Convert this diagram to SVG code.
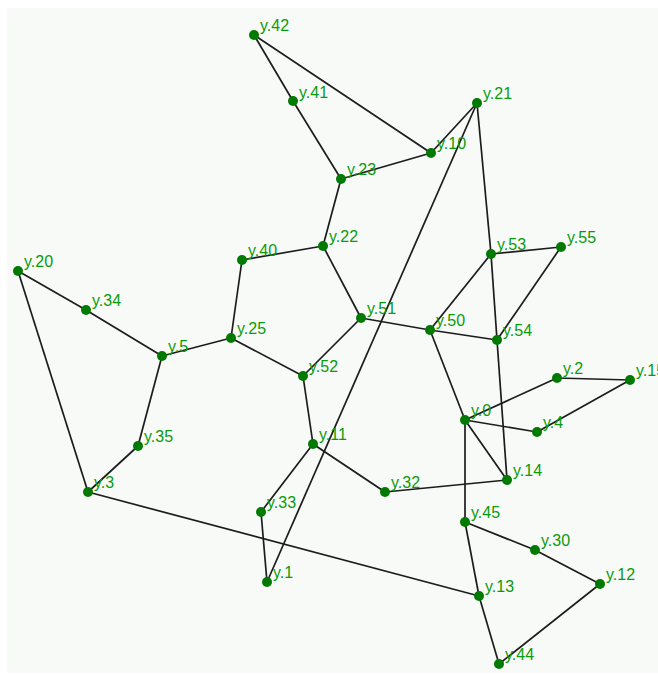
<svg xmlns="http://www.w3.org/2000/svg" width="658" height="675" viewBox="0 0 658 675">
<style>
.e{stroke:#1c1c1c;stroke-width:1.7;fill:none}
.n circle{fill:#007a00}
.n text{fill:#0a9a0a;font-family:"Liberation Sans",Arial,sans-serif;font-size:16px}
</style>
<rect width="658" height="675" fill="#ffffff"/>
<rect x="7" y="8" width="651" height="665" fill="#f8faf8"/>
<g id="edges" class="e">
<line x1="254" y1="35" x2="293" y2="101"/>
<line x1="254" y1="35" x2="431" y2="153"/>
<line x1="293" y1="101" x2="341" y2="179"/>
<line x1="341" y1="179" x2="431" y2="153"/>
<line x1="431" y1="153" x2="477" y2="103"/>
<line x1="477" y1="103" x2="267" y2="582"/>
<line x1="477" y1="103" x2="491" y2="254"/>
<line x1="491" y1="254" x2="497" y2="340"/>
<line x1="497" y1="340" x2="507" y2="480"/>
<line x1="341" y1="179" x2="323" y2="246"/>
<line x1="323" y1="246" x2="242" y2="260"/>
<line x1="323" y1="246" x2="361" y2="318"/>
<line x1="242" y1="260" x2="231" y2="338"/>
<line x1="231" y1="338" x2="162" y2="356"/>
<line x1="231" y1="338" x2="303" y2="376"/>
<line x1="18" y1="271" x2="86" y2="310"/>
<line x1="86" y1="310" x2="162" y2="356"/>
<line x1="18" y1="271" x2="88" y2="492"/>
<line x1="162" y1="356" x2="138" y2="446"/>
<line x1="138" y1="446" x2="88" y2="492"/>
<line x1="88" y1="492" x2="479" y2="596"/>
<line x1="303" y1="376" x2="361" y2="318"/>
<line x1="303" y1="376" x2="313" y2="444"/>
<line x1="361" y1="318" x2="430" y2="330"/>
<line x1="430" y1="330" x2="491" y2="254"/>
<line x1="430" y1="330" x2="497" y2="340"/>
<line x1="430" y1="330" x2="465" y2="420"/>
<line x1="491" y1="254" x2="561" y2="247"/>
<line x1="561" y1="247" x2="497" y2="340"/>
<line x1="465" y1="420" x2="557" y2="378"/>
<line x1="557" y1="378" x2="630" y2="380"/>
<line x1="630" y1="380" x2="537" y2="432"/>
<line x1="537" y1="432" x2="465" y2="420"/>
<line x1="465" y1="420" x2="507" y2="480"/>
<line x1="465" y1="420" x2="465" y2="522"/>
<line x1="313" y1="444" x2="261" y2="512"/>
<line x1="313" y1="444" x2="385" y2="492"/>
<line x1="261" y1="512" x2="267" y2="582"/>
<line x1="385" y1="492" x2="507" y2="480"/>
<line x1="465" y1="522" x2="535" y2="550"/>
<line x1="535" y1="550" x2="600" y2="584"/>
<line x1="465" y1="522" x2="479" y2="596"/>
<line x1="479" y1="596" x2="499" y2="664"/>
<line x1="600" y1="584" x2="499" y2="664"/>
</g>
<g id="y42" class="n"><circle cx="254" cy="35" r="5"/><text x="260" y="31">y.42</text></g>
<g id="y41" class="n"><circle cx="293" cy="101" r="5"/><text x="299" y="98">y.41</text></g>
<g id="y21" class="n"><circle cx="477" cy="103" r="5"/><text x="483" y="99">y.21</text></g>
<g id="y10" class="n"><circle cx="431" cy="153" r="5"/><text x="437" y="149">y.10</text></g>
<g id="y23" class="n"><circle cx="341" cy="179" r="5"/><text x="347" y="175">y.23</text></g>
<g id="y22" class="n"><circle cx="323" cy="246" r="5"/><text x="329" y="242">y.22</text></g>
<g id="y40" class="n"><circle cx="242" cy="260" r="5"/><text x="248" y="256">y.40</text></g>
<g id="y20" class="n"><circle cx="18" cy="271" r="5"/><text x="24" y="267">y.20</text></g>
<g id="y34" class="n"><circle cx="86" cy="310" r="5"/><text x="92" y="306">y.34</text></g>
<g id="y5" class="n"><circle cx="162" cy="356" r="5"/><text x="168" y="352">y.5</text></g>
<g id="y25" class="n"><circle cx="231" cy="338" r="5"/><text x="237" y="334">y.25</text></g>
<g id="y52" class="n"><circle cx="303" cy="376" r="5"/><text x="309" y="372">y.52</text></g>
<g id="y35" class="n"><circle cx="138" cy="446" r="5"/><text x="144" y="442">y.35</text></g>
<g id="y51" class="n"><circle cx="361" cy="318" r="5"/><text x="367" y="314">y.51</text></g>
<g id="y50" class="n"><circle cx="430" cy="330" r="5"/><text x="436" y="326">y.50</text></g>
<g id="y53" class="n"><circle cx="491" cy="254" r="5"/><text x="497" y="250">y.53</text></g>
<g id="y55" class="n"><circle cx="561" cy="247" r="5"/><text x="567" y="243">y.55</text></g>
<g id="y54" class="n"><circle cx="497" cy="340" r="5"/><text x="503" y="336">y.54</text></g>
<g id="y2" class="n"><circle cx="557" cy="378" r="5"/><text x="563" y="374">y.2</text></g>
<g id="y15" class="n"><circle cx="630" cy="380" r="5"/><text x="636" y="376">y.15</text></g>
<g id="y0" class="n"><circle cx="465" cy="420" r="5"/><text x="471" y="416">y.0</text></g>
<g id="y4" class="n"><circle cx="537" cy="432" r="5"/><text x="543" y="428">y.4</text></g>
<g id="y14" class="n"><circle cx="507" cy="480" r="5"/><text x="513" y="476">y.14</text></g>
<g id="y11" class="n"><circle cx="313" cy="444" r="5"/><text x="319" y="440">y.11</text></g>
<g id="y32" class="n"><circle cx="385" cy="492" r="5"/><text x="391" y="488">y.32</text></g>
<g id="y3" class="n"><circle cx="88" cy="492" r="5"/><text x="94" y="488">y.3</text></g>
<g id="y33" class="n"><circle cx="261" cy="512" r="5"/><text x="267" y="508">y.33</text></g>
<g id="y1" class="n"><circle cx="267" cy="582" r="5"/><text x="273" y="578">y.1</text></g>
<g id="y45" class="n"><circle cx="465" cy="522" r="5"/><text x="471" y="518">y.45</text></g>
<g id="y30" class="n"><circle cx="535" cy="550" r="5"/><text x="541" y="546">y.30</text></g>
<g id="y12" class="n"><circle cx="600" cy="584" r="5"/><text x="606" y="580">y.12</text></g>
<g id="y13" class="n"><circle cx="479" cy="596" r="5"/><text x="485" y="592">y.13</text></g>
<g id="y44" class="n"><circle cx="499" cy="664" r="5"/><text x="505" y="660">y.44</text></g>
</svg>
